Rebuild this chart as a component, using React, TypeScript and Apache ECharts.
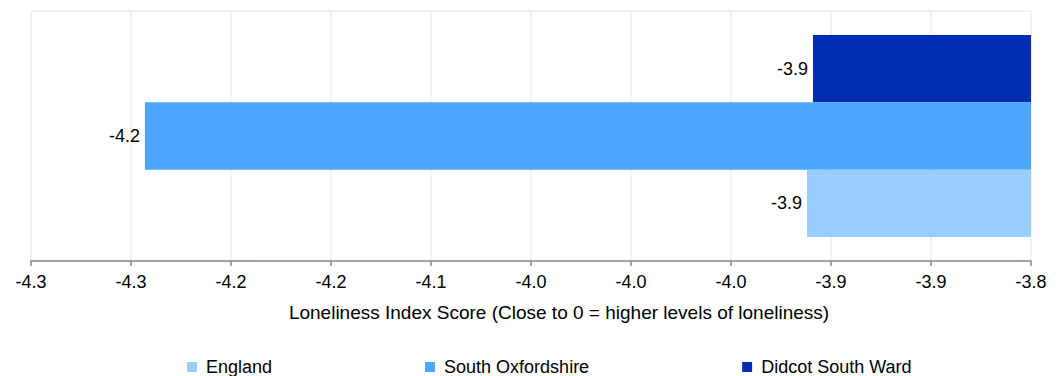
import React, { useEffect, useRef } from "react";
import * as echarts from "echarts";

const seriesNames = ["England", "South Oxfordshire", "Didcot South Ward"];
const seriesValues = [-3.912, -4.243, -3.909];
const seriesColors = ["#99CCFF", "#4DA6FF", "#002EB3"];
const categories = [""];
const axisTitle = "Loneliness Index Score (Close to 0 = higher levels of loneliness)";

export default function App() {
  const ref = useRef<HTMLDivElement>(null);
  useEffect(() => {
    if (!ref.current) return;
    const chart = echarts.init(ref.current, undefined, { renderer: "svg" });
    const font = "'Liberation Sans', Arial, sans-serif";
    // ECharts stacks horizontal bar series top-down, so draw the last one first
    const order = seriesNames.map((_, i) => i).reverse();
    chart.setOption({
      animation: false,
      textStyle: { fontFamily: font },
      grid: { left: 31, right: 30, top: 11, bottom: 115, containLabel: false },
      xAxis: {
        type: "value",
        min: -4.3,
        max: -3.8,
        interval: 0.05,
        name: axisTitle,
        nameLocation: "middle",
        nameGap: 42,
        nameTextStyle: { fontSize: 19, color: "#000", fontFamily: font, padding: [0, 0, 0, 56] },
        axisLine: { show: true, lineStyle: { color: "#888", width: 1.5 } },
        axisTick: { show: true, length: 5, lineStyle: { color: "#888", width: 1.5 } },
        axisLabel: {
          fontSize: 18,
          color: "#000",
          fontFamily: font,
          margin: 12,
          formatter: (v: number) => v.toFixed(1),
        },
        splitLine: { show: true, lineStyle: { color: "#eeeeee", width: 1.5 } },
      },
      yAxis: {
        type: "category",
        data: categories,
        axisLine: { show: false },
        axisTick: { show: false },
        axisLabel: { show: false },
        splitLine: { show: true, lineStyle: { color: "#eeeeee", width: 1.5 } },
      },
      legend: {
        left: 187,
        top: 358,
        padding: 0,
        itemWidth: 10,
        itemHeight: 10,
        itemGap: 153,
        icon: "rect",
        textStyle: { fontSize: 18, color: "#000", fontFamily: font, padding: [0, 0, 0, 4] },
        data: seriesNames,
      },
      series: order.map((i) => ({
        name: seriesNames[i],
        type: "bar",
        data: [seriesValues[i]],
        itemStyle: { color: seriesColors[i] },
        barGap: "0%",
        barCategoryGap: "19.2%",
        label: {
          show: true,
          position: "left",
          distance: 5,
          fontSize: 18,
          color: "#000",
          fontFamily: font,
          formatter: (p: any) => Number(p.value).toFixed(1),
        },
      })),
    });
    return () => chart.dispose();
  }, []);
  return (
    <div
      ref={ref}
      style={{ position: "fixed", left: 0, top: 0, width: 1061, height: 376, background: "#fff" }}
    />
  );
}
